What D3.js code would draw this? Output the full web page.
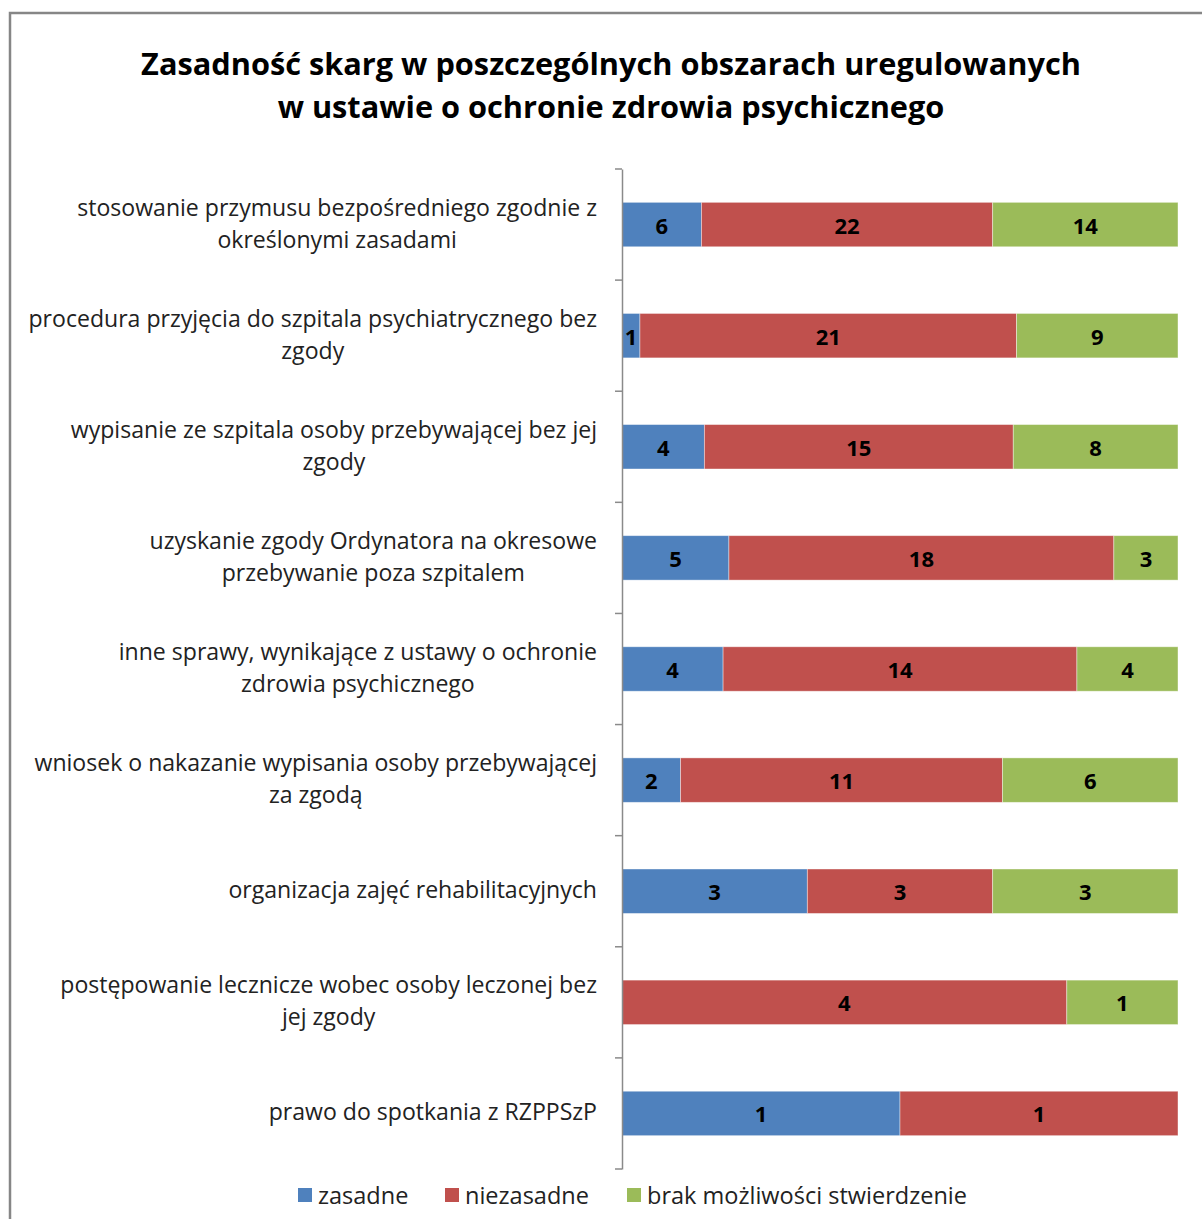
<!DOCTYPE html>
<html><head><meta charset="utf-8">
<script src="https://cdn.jsdelivr.net/npm/d3@7"></script>
<style>body{margin:0;background:#fff}svg{display:block}text{font-family:"Open Sans","Noto Sans",sans-serif}</style>
</head><body><svg id="c" width="1202" height="1219"></svg>
<script>
const title = ["Zasadność skarg w poszczególnych obszarach uregulowanych", "w ustawie o ochronie zdrowia psychicznego"];
const categories = [
  ["stosowanie przymusu bezpośredniego zgodnie z", "określonymi zasadami"],
  ["procedura przyjęcia do szpitala psychiatrycznego bez", "zgody"],
  ["wypisanie ze szpitala osoby przebywającej bez jej", "zgody"],
  ["uzyskanie zgody Ordynatora na okresowe", "przebywanie poza szpitalem"],
  ["inne sprawy, wynikające z ustawy o ochronie", "zdrowia psychicznego"],
  ["wniosek o nakazanie wypisania osoby przebywającej", "za zgodą"],
  ["organizacja zajęć rehabilitacyjnych"],
  ["postępowanie lecznicze wobec osoby leczonej bez", "jej zgody"],
  ["prawo do spotkania z RZPPSzP"]
];
const seriesNames = ["zasadne", "niezasadne", "brak możliwości stwierdzenie"];
const zasadne     = [6, 1, 4, 5, 4, 2, 3, 0, 1];
const niezasadne  = [22, 21, 15, 18, 14, 11, 3, 4, 1];
const brak        = [14, 9, 8, 3, 4, 6, 3, 1, 0];
const colors = ["#4F81BD", "#C0504D", "#9BBB59"];

const svg = d3.select("#c");
const W = 1202, H = 1219;
const x0 = 622, x1 = 1178, y0 = 169, y1 = 1169;

// border
svg.append("rect").attr("x", 10).attr("y", 13).attr("width", W + 20).attr("height", H + 20)
  .attr("fill", "none").attr("stroke", "#868686").attr("stroke-width", 2.5);

function fit(sel, target) {
  const w = sel.node().getComputedTextLength();
  const fs = parseFloat(sel.attr("font-size"));
  sel.attr("font-size", fs * target / w);
  return fs * target / w;
}

// title
const t1 = svg.append("text").attr("x", 611).attr("y", 75).attr("text-anchor", "middle")
  .attr("font-weight", "bold").attr("font-size", 30).attr("fill", "#000").text(title[0]);
const tfs = fit(t1, 940);
svg.append("text").attr("x", 611).attr("y", 118).attr("text-anchor", "middle")
  .attr("font-weight", "bold").attr("font-size", tfs).attr("fill", "#000").text(title[1]);

const rows = categories.map((c, i) => ({cat: i, vals: [zasadne[i], niezasadne[i], brak[i]]}));
const y = d3.scaleBand().domain(d3.range(categories.length)).range([y0, y1]).paddingInner(0.6).paddingOuter(0.3);
const yb = d3.scaleBand().domain(d3.range(categories.length)).range([y0, y1]);
const x = d3.scaleLinear().domain([0, 1]).range([x0, x1]);

// bars
rows.forEach(r => {
  const tot = d3.sum(r.vals);
  let acc = 0;
  r.vals.forEach((v, k) => {
    const a = acc / tot, b = (acc + v) / tot;
    acc += v;
    if (v === 0) return;
    svg.append("rect").attr("x", x(a)).attr("y", y(r.cat)).attr("width", x(b) - x(a)).attr("height", y.bandwidth())
      .attr("fill", colors[k]).attr("stroke", "rgba(255,255,255,0.5)").attr("stroke-width", 0.8);
    svg.append("text").attr("x", (x(a) + x(b)) / 2).attr("y", y(r.cat) + y.bandwidth() / 2)
      .attr("text-anchor", "middle").attr("dominant-baseline", "central")
      .attr("font-weight", "bold").attr("font-size", 22).attr("fill", "#000").text(v);
  });
});

// axis
const axis = svg.append("g").attr("transform", `translate(${x0},0)`)
  .call(d3.axisLeft(yb).tickValues([]).tickSizeOuter(0));
axis.select(".domain").attr("stroke", "#8a8a8a").attr("stroke-width", 1.5);
const boundaries = d3.range(categories.length + 1).map(i => y0 + i * yb.step());
svg.selectAll("line.tick").data(boundaries).join("line").attr("class", "tick")
  .attr("x1", x0 - 7).attr("x2", x0).attr("y1", d => d).attr("y2", d => d)
  .attr("stroke", "#8a8a8a").attr("stroke-width", 1.5);

// category labels
const probe = svg.append("text").attr("font-size", 22).text(categories[0][0]);
const lfs = fit(probe, 520);
probe.remove();
categories.forEach((lines, i) => {
  const cy = yb(i) + yb.bandwidth() / 2 - 2;
  const g = svg.append("g");
  const ts = lines.map((l, j) => g.append("text").attr("font-size", lfs).attr("fill", "#222")
    .attr("text-anchor", "middle").attr("dominant-baseline", "central")
    .attr("y", cy + (j - (lines.length - 1) / 2) * 32).text(l));
  const maxw = d3.max(ts, t => t.node().getComputedTextLength());
  ts.forEach(t => t.attr("x", 597 - maxw / 2));
});

// legend
const legX = [298, 445, 627];
seriesNames.forEach((n, k) => {
  svg.append("rect").attr("x", legX[k]).attr("y", 1188).attr("width", 14).attr("height", 14).attr("fill", colors[k]);
  svg.append("text").attr("x", legX[k] + 20).attr("y", 1195).attr("dominant-baseline", "central")
    .attr("font-size", lfs * 1.02).attr("fill", "#222").text(n);
});
</script></body></html>
